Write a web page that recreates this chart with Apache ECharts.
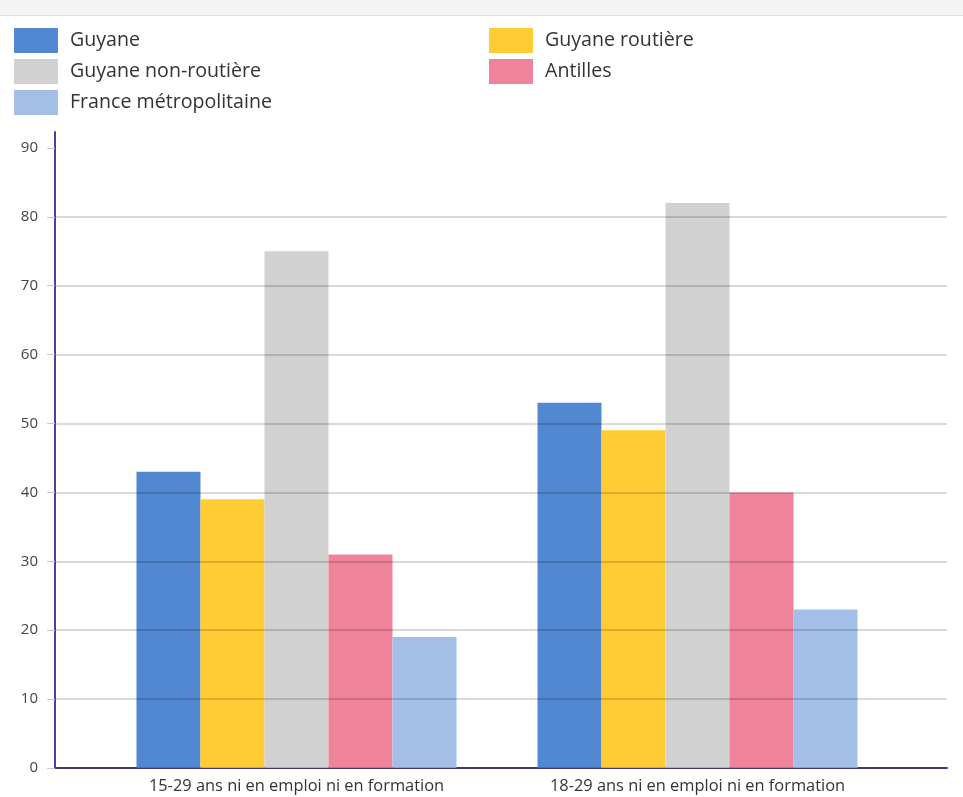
<!DOCTYPE html>
<html>
<head>
<meta charset="utf-8">
<script src="https://cdn.jsdelivr.net/npm/echarts@6/dist/echarts.min.js"></script>
<style>
  html, body { margin: 0; padding: 0; background: #ffffff; }
  #chart { width: 963px; height: 797px; position: relative; }
  #band { position: absolute; left: 0; top: 0; width: 963px; height: 15px; background: #f4f4f4; border-bottom: 1px solid #dedede; z-index: 5; }
</style>
</head>
<body>
<div id="band"></div>
<div id="chart"></div>
<script>
const categories = ['15-29 ans ni en emploi ni en formation', '18-29 ans ni en emploi ni en formation'];
const seriesNames = ['Guyane', 'Guyane routière', 'Guyane non-routière', 'Antilles', 'France métropolitaine'];
const guyane = [43, 53];
const guyaneRoutiere = [39, 49];
const guyaneNonRoutiere = [75, 82];
const antilles = [31, 40];
const franceMetro = [19, 23];
const yTicks = [0, 10, 20, 30, 40, 50, 60, 70, 80, 90];
const categoryPositions = [0, 1];

const colors = ['#5288d2', '#ffcc33', '#d1d1d1', '#ee8399', '#a3bfe7'];
const allValues = [guyane, guyaneRoutiere, guyaneNonRoutiere, antilles, franceMetro];

const FONT = 'Open Sans';
const chart = echarts.init(document.getElementById('chart'), null, { renderer: 'canvas' });

const legendCommon = {
  orient: 'vertical',
  icon: 'rect',
  itemWidth: 44,
  itemHeight: 25,
  itemGap: 6,
  padding: 0,
  top: 28,
  selectedMode: false,
  textStyle: { fontFamily: FONT, fontSize: 19.6, color: '#333333', padding: [3, 0, 0, 7] }
};

chart.setOption({
  animation: false,
  color: colors,
  legend: [
    Object.assign({}, legendCommon, { left: 14, data: ['Guyane', 'Guyane non-routière', 'France métropolitaine'] }),
    Object.assign({}, legendCommon, { left: 489, data: ['Guyane routière', 'Antilles'] })
  ],
  grid: { left: 55, right: 16, top: 132, bottom: 29, containLabel: false, outerBoundsMode: 'none' },
  xAxis: {
    type: 'value',
    min: -0.6022,
    max: 1.6222,
    splitLine: { show: false },
    axisTick: { show: false },
    axisLine: { show: true, onZero: false, lineStyle: { color: '#4b409a', width: 2 } },
    axisLabel: {
      customValues: categoryPositions,
      formatter: function (v) { return categories[Math.round(v)]; },
      fontFamily: FONT,
      fontSize: 16.4,
      color: '#333333',
      margin: 10
    }
  },
  yAxis: {
    type: 'value',
    min: 0,
    max: 92.3,
    interval: 10,
    z: 3,
    axisLine: { show: true, onZero: false, lineStyle: { color: '#4b409a', width: 2 } },
    axisTick: { show: true, customValues: yTicks, length: 8, lineStyle: { color: '#c8c8c8' } },
    axisLabel: { customValues: yTicks, fontFamily: FONT, fontSize: 15, color: '#444444', margin: 17 },
    splitLine: { show: true, showMaxLine: false, lineStyle: { color: 'rgba(0,0,0,0.2)', width: 1.5 } }
  },
  series: seriesNames.map(function (name, si) {
    return {
      name: name,
      type: 'bar',
      barWidth: 64,
      barGap: '0%',
      itemStyle: { color: colors[si] },
      data: allValues[si].map(function (v, i) { return [categoryPositions[i], v]; })
    };
  })
});
</script>
</body>
</html>
